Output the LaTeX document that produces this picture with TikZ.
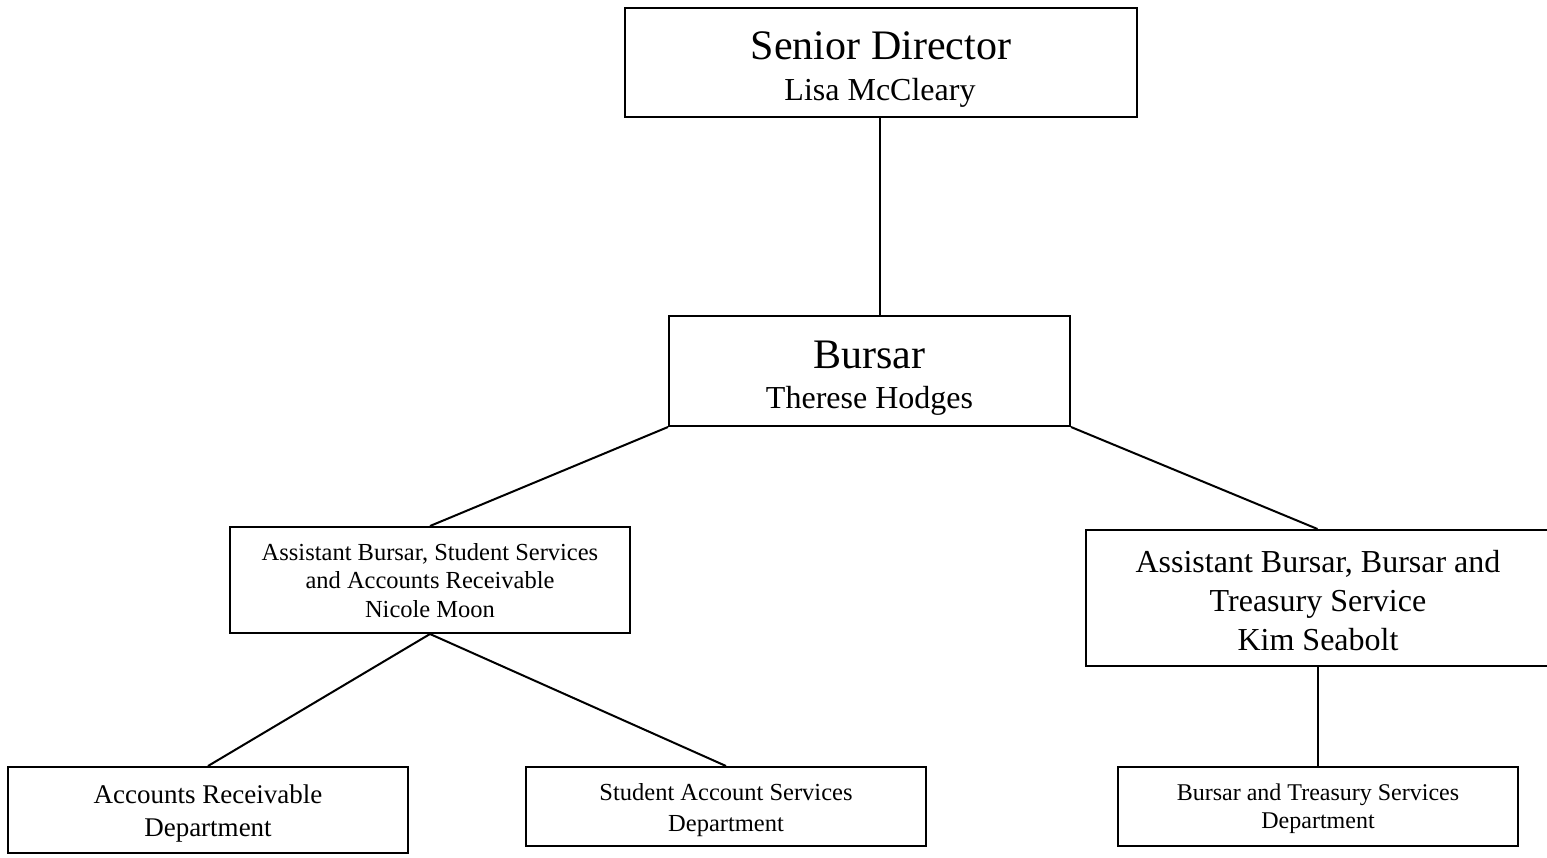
\documentclass[tikz,border=0pt]{standalone}
\usepackage{fontspec}
\setmainfont{Liberation Serif}
\begin{document}
\begin{tikzpicture}[x=1pt,y=-1pt,
  box/.style={draw,line width=2pt,inner sep=0pt,fill=none},
  conn/.style={line width=2pt},
  txt/.style={inner sep=0pt,anchor=base},
  big/.style={font=\fontsize{42}{48}\selectfont},
  mid/.style={font=\fontsize{32}{38}\selectfont},
  sml/.style={font=\fontsize{24.5}{29}\selectfont},
  dep/.style={font=\fontsize{24.5}{29}\selectfont}]
\useasboundingbox (0,0) rectangle (1547,857);
\fill[white] (0,0) rectangle (1547,857);
% boxes
\node[box,minimum width=512pt,minimum height=109pt] (sd) at (881,62.5) {};
\node[box,minimum width=401pt,minimum height=110pt] (bu) at (869.5,371) {};
\node[box,minimum width=400pt,minimum height=106pt] (ln) at (430,580) {};
\node[box,minimum width=463pt,minimum height=136pt] (rn) at (1317.5,598) {};
\node[box,minimum width=400pt,minimum height=86pt] (ar) at (208,810) {};
\node[box,minimum width=400pt,minimum height=79pt] (sa) at (726,806.5) {};
\node[box,minimum width=400pt,minimum height=79pt] (bt) at (1318,806.5) {};
% texts
\node[txt,big] (sd1) at (881,59) {Senior Director};
\node[txt,mid] (sd2) at (880,100) {Lisa McCleary};
\node[txt,big] (bu1) at (869.5,368) {Bursar};
\node[txt,mid] (bu2) at (869.5,408) {Therese Hodges};
\node[txt,sml] (ln1) at (430,560) {Assistant Bursar, Student Services};
\node[txt,sml] (ln2) at (430,588) {and Accounts Receivable};
\node[txt,sml] (ln3) at (430,617) {Nicole Moon};
\node[txt,mid] (rn1) at (1318,572) {Assistant Bursar, Bursar and};
\node[txt,mid] (rn2) at (1318,611) {Treasury Service};
\node[txt,mid] (rn3) at (1318,650) {Kim Seabolt};
\node[txt,font=\fontsize{27}{32}\selectfont] (ar1) at (208,803) {Accounts Receivable};
\node[txt,font=\fontsize{27}{32}\selectfont] (ar2) at (208,836) {Department};
\node[txt,dep] (sa1) at (726,800) {Student Account Services};
\node[txt,dep] (sa2) at (726,831) {Department};
\node[txt,font=\fontsize{24}{28}\selectfont] (bt1) at (1318,800) {Bursar and Treasury Services};
\node[txt,font=\fontsize{24}{28}\selectfont] (bt2) at (1318,828) {Department};
% connectors
\coordinate (sdb) at ([xshift=-1pt]sd.south);
\draw[conn] (sdb) -- (sdb |- bu.north);
\draw[conn] (bu.south west) -- (ln.north);
\draw[conn] (bu.south east) -- (rn.north);
\draw[conn] (ln.south) -- (ar.north);
\draw[conn] (ln.south) -- (sa.north);
\draw[conn] (bt.north |- rn.south) -- (bt.north);
\end{tikzpicture}
\end{document}
